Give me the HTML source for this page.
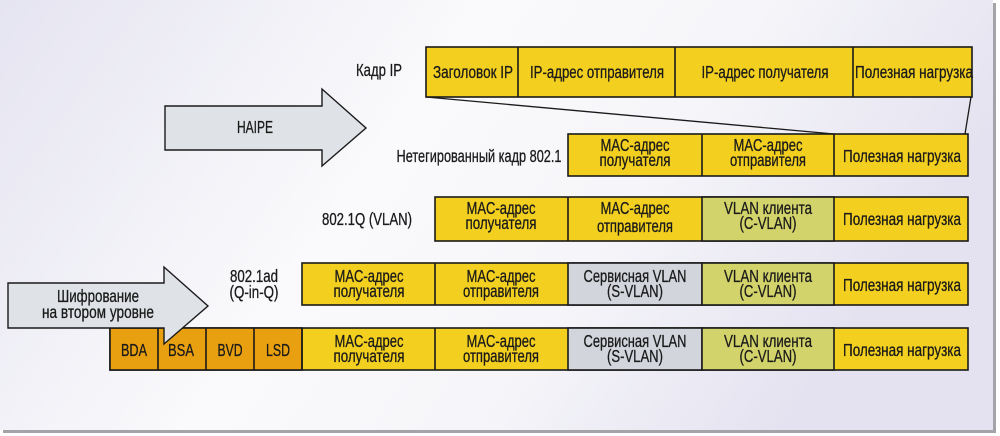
<!DOCTYPE html>
<html><head><meta charset="utf-8"><style>
html,body{margin:0;padding:0;background:#fff;}
svg{display:block;}
text{font-family:"Liberation Sans Narrow","Liberation Sans",sans-serif;font-size:17.5px;fill:#1a1a1a;stroke:#1a1a1a;stroke-width:0.3px;}
</style></head><body>
<svg width="1000" height="436" viewBox="0 0 1000 436" xmlns="http://www.w3.org/2000/svg">
<defs>
<linearGradient id="bg" x1="0" y1="0" x2="1" y2="0.3">
<stop offset="0" stop-color="#e5e4f1"/>
<stop offset="0.45" stop-color="#fafafc"/>
<stop offset="0.7" stop-color="#f6f6fa"/>
<stop offset="1" stop-color="#e4e2f0"/>
</linearGradient>
</defs>
<rect x="0" y="0" width="1000" height="436" fill="#fff"/>
<rect x="3" y="3" width="993" height="430" fill="#a4a4a8"/>
<rect x="0" y="0" width="993" height="430" fill="url(#bg)"/>

<g stroke="#1a1a1a" stroke-width="1.6">
<rect x="426" y="47" width="546" height="50" fill="#f3cf1f"/>
<line x1="518" y1="47" x2="518" y2="97"/>
<line x1="675" y1="47" x2="675" y2="97"/>
<line x1="853" y1="47" x2="853" y2="97"/>
<line x1="426" y1="97" x2="834" y2="134" stroke-width="1.3"/>
<line x1="971" y1="97" x2="965" y2="134" stroke-width="1.3"/>
<rect x="568" y="134" width="400" height="42" fill="#f3cf1f"/>
<line x1="702" y1="134" x2="702" y2="176"/>
<line x1="834" y1="134" x2="834" y2="176"/>
<rect x="435" y="197" width="533" height="44" fill="#f3cf1f"/>
<rect x="702" y="197" width="132" height="44" fill="#d3d36b"/>
<line x1="568" y1="197" x2="568" y2="241"/>
<rect x="302" y="263" width="666" height="42" fill="#f3cf1f"/>
<rect x="568" y="263" width="134" height="42" fill="#d2d5dc"/>
<rect x="702" y="263" width="132" height="42" fill="#d3d36b"/>
<line x1="435" y1="263" x2="435" y2="305"/>
<rect x="110" y="328" width="858" height="42" fill="#f3cf1f"/>
<rect x="110" y="328" width="192" height="42" fill="#e8a010"/>
<rect x="568" y="328" width="134" height="42" fill="#d2d5dc"/>
<rect x="702" y="328" width="132" height="42" fill="#d3d36b"/>
<line x1="158" y1="328" x2="158" y2="370"/>
<line x1="206" y1="328" x2="206" y2="370"/>
<line x1="254" y1="328" x2="254" y2="370"/>
<line x1="302" y1="328" x2="302" y2="370"/>
<line x1="435" y1="328" x2="435" y2="370"/>
<polygon points="165,106 322,106 322,89 366,128 322,166 322,150 165,150" fill="#dfe2e6" stroke-width="1.4"/>
<polygon points="8,283 164,283 164,267 208,306 164,344 164,328 8,328" fill="#dfe2e6" stroke-width="1.4"/>
</g>

<g text-anchor="middle">
<text x="473" y="78" textLength="80" lengthAdjust="spacingAndGlyphs">Заголовок IP</text>
<text x="597" y="78" textLength="134" lengthAdjust="spacingAndGlyphs">IP-адрес отправителя</text>
<text x="765" y="78" textLength="127" lengthAdjust="spacingAndGlyphs">IP-адрес получателя</text>
<text x="914" y="78" textLength="118" lengthAdjust="spacingAndGlyphs">Полезная нагрузка</text>
<text x="635" y="151" textLength="69" lengthAdjust="spacingAndGlyphs">MAC-адрес</text>
<text x="635" y="166" textLength="71" lengthAdjust="spacingAndGlyphs">получателя</text>
<text x="768" y="151" textLength="69" lengthAdjust="spacingAndGlyphs">MAC-адрес</text>
<text x="768" y="166" textLength="76" lengthAdjust="spacingAndGlyphs">отправителя</text>
<text x="902" y="162" textLength="118" lengthAdjust="spacingAndGlyphs">Полезная нагрузка</text>
<text x="501" y="214" textLength="69" lengthAdjust="spacingAndGlyphs">MAC-адрес</text>
<text x="501" y="229" textLength="71" lengthAdjust="spacingAndGlyphs">получателя</text>
<text x="635" y="214" textLength="69" lengthAdjust="spacingAndGlyphs">MAC-адрес</text>
<text x="635" y="232" textLength="76" lengthAdjust="spacingAndGlyphs">отправителя</text>
<text x="768" y="214" textLength="88" lengthAdjust="spacingAndGlyphs">VLAN клиента</text>
<text x="768" y="229" textLength="57" lengthAdjust="spacingAndGlyphs">(C-VLAN)</text>
<text x="902" y="225" textLength="118" lengthAdjust="spacingAndGlyphs">Полезная нагрузка</text>
<text x="369" y="282" textLength="69" lengthAdjust="spacingAndGlyphs">MAC-адрес</text>
<text x="369" y="297" textLength="71" lengthAdjust="spacingAndGlyphs">получателя</text>
<text x="501" y="282" textLength="69" lengthAdjust="spacingAndGlyphs">MAC-адрес</text>
<text x="501" y="297" textLength="76" lengthAdjust="spacingAndGlyphs">отправителя</text>
<text x="635" y="282" textLength="103" lengthAdjust="spacingAndGlyphs">Сервисная VLAN</text>
<text x="635" y="297" textLength="56" lengthAdjust="spacingAndGlyphs">(S-VLAN)</text>
<text x="768" y="282" textLength="88" lengthAdjust="spacingAndGlyphs">VLAN клиента</text>
<text x="768" y="297" textLength="57" lengthAdjust="spacingAndGlyphs">(C-VLAN)</text>
<text x="902" y="291" textLength="118" lengthAdjust="spacingAndGlyphs">Полезная нагрузка</text>
<text x="134" y="356" textLength="26" lengthAdjust="spacingAndGlyphs">BDA</text>
<text x="181" y="356" textLength="26" lengthAdjust="spacingAndGlyphs">BSA</text>
<text x="230" y="356" textLength="25" lengthAdjust="spacingAndGlyphs">BVD</text>
<text x="278" y="356" textLength="24" lengthAdjust="spacingAndGlyphs">LSD</text>
<text x="369" y="347" textLength="69" lengthAdjust="spacingAndGlyphs">MAC-адрес</text>
<text x="369" y="362" textLength="71" lengthAdjust="spacingAndGlyphs">получателя</text>
<text x="501" y="347" textLength="69" lengthAdjust="spacingAndGlyphs">MAC-адрес</text>
<text x="501" y="362" textLength="76" lengthAdjust="spacingAndGlyphs">отправителя</text>
<text x="635" y="347" textLength="103" lengthAdjust="spacingAndGlyphs">Сервисная VLAN</text>
<text x="635" y="362" textLength="56" lengthAdjust="spacingAndGlyphs">(S-VLAN)</text>
<text x="768" y="347" textLength="88" lengthAdjust="spacingAndGlyphs">VLAN клиента</text>
<text x="768" y="362" textLength="57" lengthAdjust="spacingAndGlyphs">(C-VLAN)</text>
<text x="902" y="356" textLength="118" lengthAdjust="spacingAndGlyphs">Полезная нагрузка</text>
<text x="379" y="76" textLength="46" lengthAdjust="spacingAndGlyphs">Кадр IP</text>
<text x="479" y="162" textLength="165" lengthAdjust="spacingAndGlyphs">Нетегированный кадр 802.1</text>
<text x="367" y="225" textLength="90" lengthAdjust="spacingAndGlyphs">802.1Q (VLAN)</text>
<text x="254" y="282" textLength="48" lengthAdjust="spacingAndGlyphs">802.1ad</text>
<text x="254" y="298" textLength="49" lengthAdjust="spacingAndGlyphs">(Q-in-Q)</text>
<text x="255" y="133" textLength="36" lengthAdjust="spacingAndGlyphs">HAIPE</text>
<text x="98" y="302" textLength="82" lengthAdjust="spacingAndGlyphs">Шифрование</text>
<text x="98" y="318" textLength="112" lengthAdjust="spacingAndGlyphs">на втором уровне</text>
</g>
</svg>
</body></html>
